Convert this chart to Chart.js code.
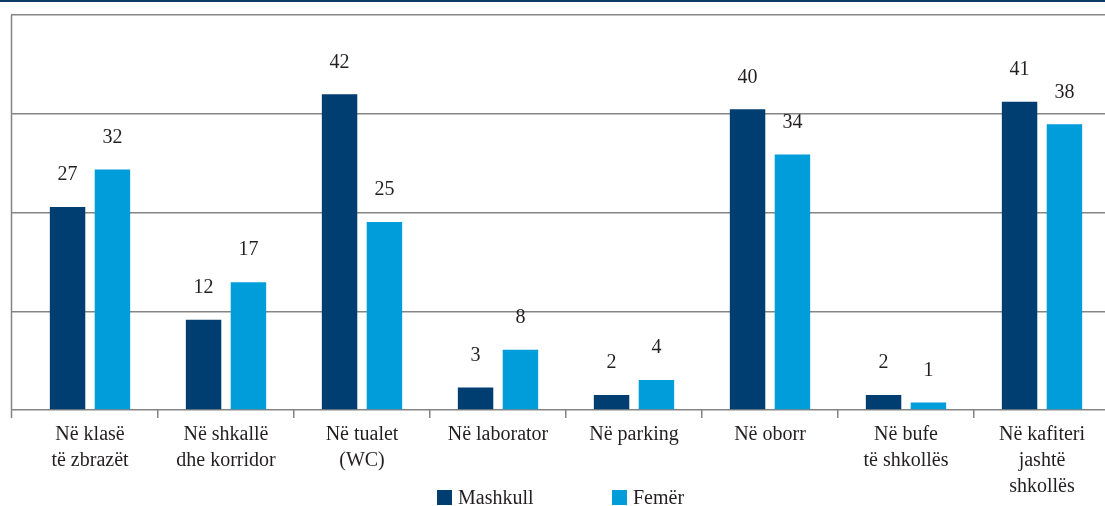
<!DOCTYPE html>
<html>
<head>
<meta charset="utf-8">
<script src="https://cdn.jsdelivr.net/npm/chart.js@4"></script>
<style>
  html, body { margin: 0; padding: 0; background: #fff; overflow: hidden; width: 1105px; height: 506px; }
  #rule { position: absolute; left: 0; top: 0; width: 1105px; height: 2px; background: #0d3b67; }
  #wrap { position: absolute; left: 0; top: 0; }
  #legend { position: absolute; left: 437px; top: 486px; display: flex; font-family: "Liberation Serif", serif; font-size: 20px; color: #231f20; }
  #legend .item { display: flex; align-items: center; }
  #legend .box { width: 15px; height: 15px; margin-right: 6px; }
</style>
</head>
<body>
<div id="rule"></div>
<div id="wrap"><canvas id="barChart" width="1115" height="506"></canvas></div>
<div id="legend"></div>
<script>
const categories = [
    ["Në klasë", "të zbrazët"],
    ["Në shkallë", "dhe korridor"],
    ["Në tualet", "(WC)"],
    ["Në laborator"],
    ["Në parking"],
    ["Në oborr"],
    ["Në bufe", "të shkollës"],
    ["Në kafiteri", "jashtë", "shkollës"]
];
const seriesNames = ["Mashkull", "Femër"];
const maleValues = [27, 12, 42, 3, 2, 40, 2, 41];
const femaleValues = [32, 17, 25, 8, 4, 34, 1, 38];
const yMax = 52.55;
const yTickCount = 5;

const colors = ['#003d71', '#009ddb'];
const gridColor = '#858585';
const textColor = '#231f20';
const serif = '"Liberation Serif", "Times New Roman", serif';

// value labels above each bar
const valueLabels = {
    id: 'valueLabels',
    afterDatasetsDraw(chart) {
        const ctx = chart.ctx;
        ctx.save();
        ctx.font = '20px ' + serif;
        ctx.fillStyle = textColor;
        ctx.textAlign = 'center';
        ctx.textBaseline = 'middle';
        chart.data.datasets.forEach((ds, i) => {
            chart.getDatasetMeta(i).data.forEach((bar, j) => {
                ctx.fillText(ds.data[j], bar.x, bar.y - 32);
            });
        });
        ctx.restore();
    }
};

// left frame line, from the top gridline down past the baseline
const frameLine = {
    id: 'frameLine',
    afterDraw(chart) {
        const { ctx, chartArea } = chart;
        const x = chart.scales.y.left + 0.5;
        ctx.save();
        ctx.strokeStyle = gridColor;
        ctx.lineWidth = 1.5;
        ctx.beginPath();
        ctx.moveTo(x, chartArea.top);
        ctx.lineTo(x, chartArea.bottom + 8);
        ctx.stroke();
        ctx.restore();
    }
};

new Chart(document.getElementById('barChart'), {
    type: 'bar',
    data: {
        labels: categories,
        datasets: [
            { label: seriesNames[0], data: maleValues, backgroundColor: colors[0] },
            { label: seriesNames[1], data: femaleValues, backgroundColor: colors[1] }
        ]
    },
    options: {
        responsive: false,
        animation: false,
        devicePixelRatio: 1,
        categoryPercentage: 0.66,
        barPercentage: 0.79,
        layout: { padding: { left: 11, right: 5, top: 15, bottom: 0 } },
        plugins: {
            legend: { display: false },
            tooltip: { enabled: false }
        },
        scales: {
            x: {
                border: { display: false },
                grid: {
                    drawOnChartArea: false,
                    drawTicks: true,
                    tickLength: 8,
                    lineWidth: 1.5,
                    color: ctx => ctx.index === 0 ? 'rgba(0,0,0,0)' : gridColor
                },
                ticks: {
                    color: textColor,
                    font: { family: serif, size: 20, lineHeight: 1.3 },
                    padding: 4,
                    maxRotation: 0,
                    autoSkip: false
                },
                afterFit: s => { s.height = 96; }
            },
            y: {
                min: 0,
                max: yMax,
                border: { display: false },
                grid: { color: gridColor, lineWidth: 1.5, drawTicks: true, tickLength: 11 },
                ticks: { display: false, count: yTickCount },
                afterFit: s => { s.width = 11; }
            }
        }
    },
    plugins: [valueLabels, frameLine]
});

const legend = document.getElementById('legend');
seriesNames.forEach((name, i) => {
    const item = document.createElement('div');
    item.className = 'item';
    if (i === 0) item.style.width = '175px';
    const box = document.createElement('span');
    box.className = 'box';
    box.style.background = colors[i];
    const txt = document.createElement('span');
    txt.textContent = name;
    item.appendChild(box);
    item.appendChild(txt);
    legend.appendChild(item);
});
</script>
</body>
</html>
